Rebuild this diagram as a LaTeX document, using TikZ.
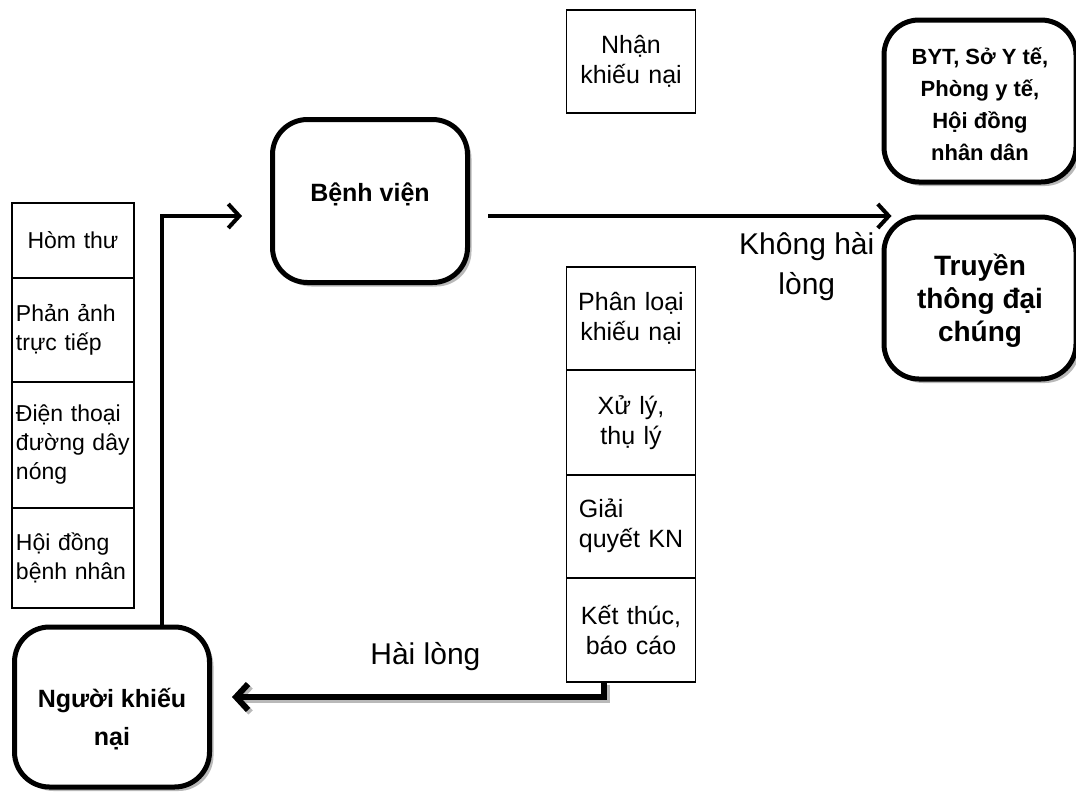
\documentclass[tikz,border=0pt]{standalone}
\usepackage{fontspec}
\setmainfont{Liberation Sans}
\usetikzlibrary{positioning,arrows.meta,shadows}

\tikzset{
	leftbox/.style={draw, line width=1.5pt, minimum width=122pt, text width=114pt, inner sep=0pt, outer sep=0pt, align=left, font=\fontsize{23}{29}\selectfont},
	midbox/.style={draw, line width=1.5pt, minimum width=129pt, text width=110pt, inner sep=0pt, outer sep=0pt, align=center, font=\fontsize{25}{30}\selectfont},
	roundbox/.style={draw, line width=5pt, rounded corners=35pt, fill=white, align=center, inner sep=0pt,
		drop shadow={shadow xshift=4pt, shadow yshift=-4pt, fill=gray!55, opacity=1}},
	flow/.style={line width=4pt, -{Straight Barb[length=11pt, width=24pt]}},
	bigflow/.style={line width=6pt, -{Straight Barb[length=12pt, width=26pt]}},
}
\newcommand{\lines}[2]{\raisebox{#1}[\height][\depth]{\begin{tabular}{@{}c@{}}#2\end{tabular}}}

\begin{document}
\begin{tikzpicture}[x=1pt, y=-1pt]
	\useasboundingbox (0,0) rectangle (1076,798);

	% left column
	\node[leftbox, align=center, minimum height=75pt, anchor=north] (homthu) at (73,203) {Hòm thư};
	\node[leftbox, minimum height=104pt, below=0pt of homthu] (phananh) {Phản ảnh\\trực tiếp};
	\node[leftbox, minimum height=126pt, below=0pt of phananh] (dienthoai) {Điện thoại\\đường dây\\nóng};
	\node[leftbox, minimum height=100pt, below=0pt of dienthoai] (hoidong) {Hội đồng\\bệnh nhân};

	% middle column
	\node[midbox, minimum height=103pt, anchor=north] (nhan) at (631,10) {Nhận\\khiếu nại};
	\node[midbox, minimum height=103pt, anchor=north] (phanloai) at (631,267) {Phân loại\\khiếu nại};
	\node[midbox, minimum height=105pt, below=0pt of phanloai] (xuly) {Xử lý,\\thụ lý};
	\node[midbox, minimum height=103pt, below=0pt of xuly] (giaiquyet) {\begin{tabular}{@{}l@{}}Giải\\quyết KN\end{tabular}};
	\node[midbox, minimum height=104pt, below=0pt of giaiquyet] (ketthuc) {Kết thúc,\\báo cáo};

	% rounded boxes
	\node[roundbox, minimum width=195pt, minimum height=163pt, font=\bfseries\fontsize{25}{30}\selectfont] (benhvien) at (370,201) {\lines{6pt}{Bệnh viện}};
	\node[roundbox, minimum width=195pt, minimum height=160pt, font=\bfseries\fontsize{25}{38}\selectfont] (nguoi) at (112,707) {\lines{-12pt}{Người khiếu\\nại}};
	\node[roundbox, minimum width=192pt, minimum height=162pt, font=\bfseries\fontsize{22}{32}\selectfont] (byt) at (980,101) {\lines{-5pt}{BYT, Sở Y tế,\\Phòng y tế,\\Hội đồng\\nhân dân}};
	\node[roundbox, minimum width=192pt, minimum height=162pt, font=\bfseries\fontsize{28}{33}\selectfont] (truyen) at (980,298) {\lines{-4pt}{Truyền\\thông đại\\chúng}};

	% connectors
	\draw[flow] ([xshift=50pt]nguoi.north) |- ([xshift=-28pt,yshift=-15pt]benhvien.west);
	\draw[flow] ([xshift=18pt,yshift=-15pt]benhvien.east) -- ([xshift=10pt,yshift=-15pt]benhvien.east -| truyen.west)
		node[pos=0.79, below=11pt, align=center, font=\fontsize{30}{40}\selectfont] (khong) {Không hài\\lòng};
	\draw[bigflow, gray!55, transform canvas={xshift=2.5pt, yshift=-2.5pt}]
		([xshift=-27pt]ketthuc.south) |- ([xshift=20pt,yshift=10pt]nguoi.east);
	\draw[bigflow] ([xshift=-27pt]ketthuc.south) |- ([xshift=20pt,yshift=10pt]nguoi.east)
		node[pos=0.74, above=20pt, font=\fontsize{30}{40}\selectfont] (hailong) {Hài lòng};
\end{tikzpicture}
\end{document}
